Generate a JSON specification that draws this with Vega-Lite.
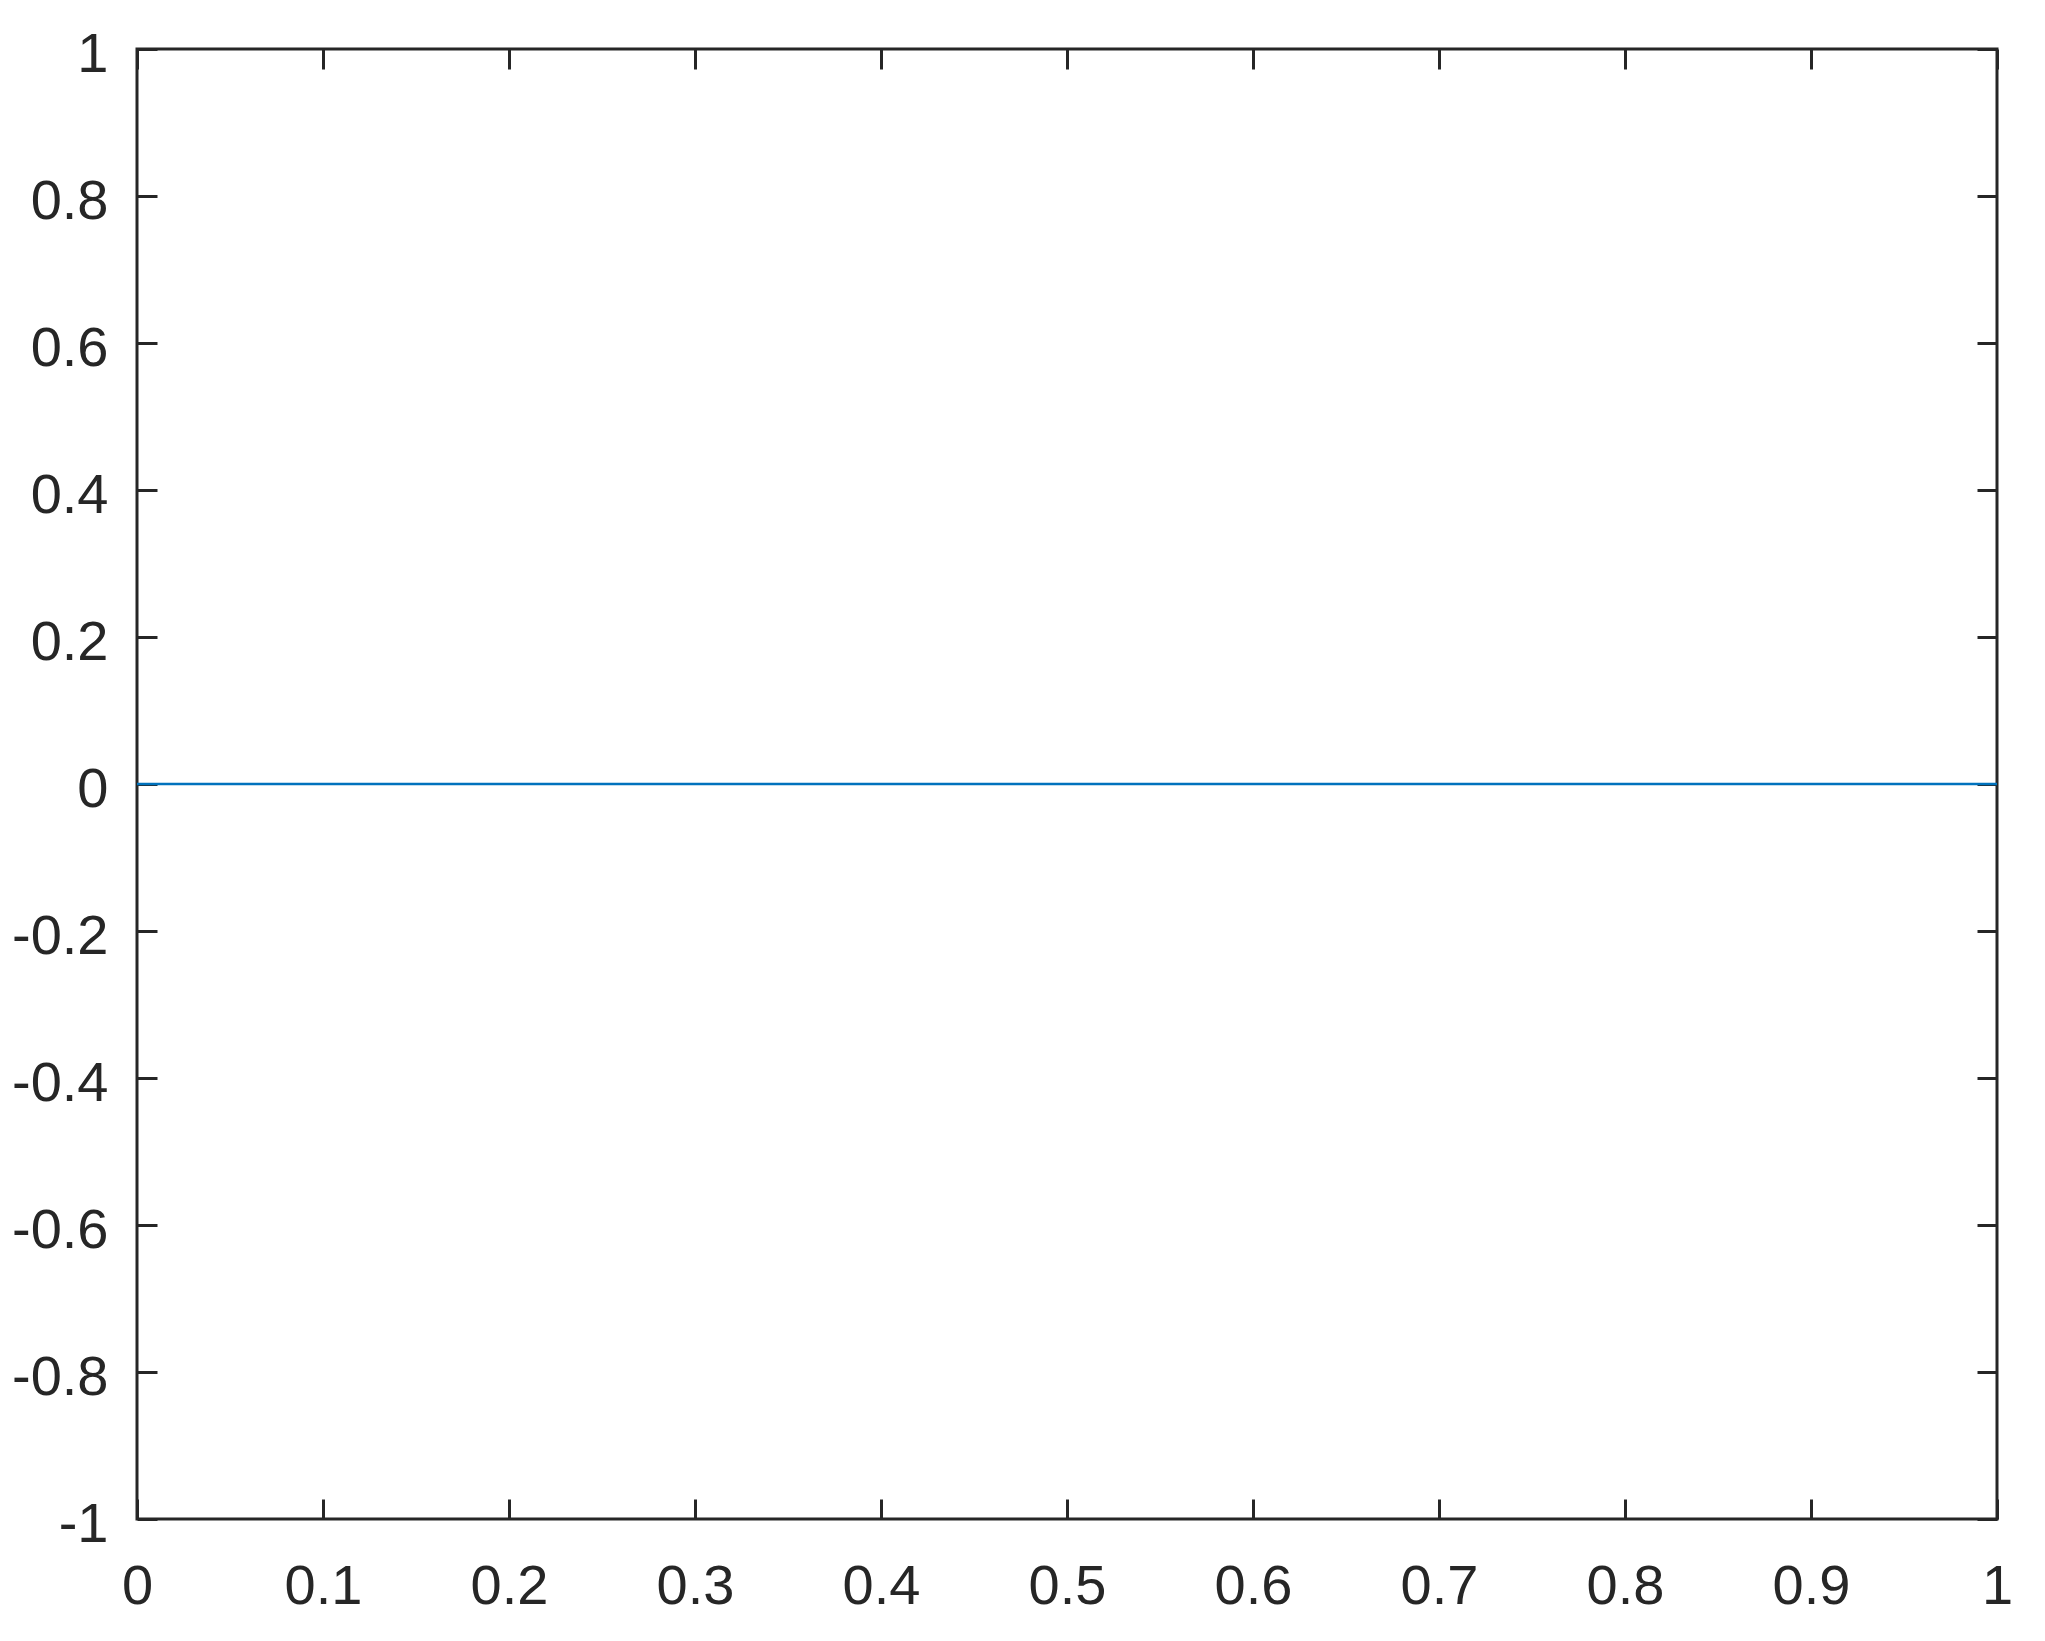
{
  "$schema": "https://vega.github.io/schema/vega-lite/v6.json",
  "width": 1860,
  "height": 1470,
  "autosize": {"type": "none"},
  "padding": {"left": 137, "top": 49, "right": 48, "bottom": 122},
  "background": "white",
  "config": {
    "view": {"stroke": "#262626", "strokeWidth": 3},
    "axis": {
      "domain": false,
      "grid": false,
      "tickColor": "#262626",
      "tickWidth": 3,
      "tickSize": -20,
      "labelFont": "Liberation Sans",
      "labelFontSize": 56,
      "labelColor": "#262626",
      "labelExpr": "'' + datum.value",
      "title": null
    }
  },
  "data": {"values": [{"x": 0, "y": 0}, {"x": 1, "y": 0}]},
  "layer": [
    {
      "mark": {"type": "line", "color": "#0072BD", "strokeWidth": 2.5, "clip": true},
      "encoding": {
        "x": {"field": "x", "type": "quantitative", "scale": {"domain": [0, 1], "nice": false},
          "axis": {"orient": "bottom", "values": [0,0.1,0.2,0.3,0.4,0.5,0.6,0.7,0.8,0.9,1], "labelPadding": 60, "labelFlush": false, "labelOverlap": false}},
        "y": {"field": "y", "type": "quantitative", "scale": {"domain": [-1, 1], "nice": false, "zero": false},
          "axis": {"orient": "left", "values": [-1,-0.8,-0.6,-0.4,-0.2,0,0.2,0.4,0.6,0.8,1], "labelPadding": 49, "labelFlush": false, "labelOverlap": false, "labelOffset": 5}}
      }
    },
    {
      "mark": {"type": "line", "opacity": 0},
      "encoding": {
        "x": {"field": "x", "type": "quantitative", "scale": {"domain": [0, 1], "nice": false},
          "axis": {"orient": "top", "values": [0,0.1,0.2,0.3,0.4,0.5,0.6,0.7,0.8,0.9,1], "labels": false}},
        "y": {"field": "y", "type": "quantitative", "scale": {"domain": [-1, 1], "nice": false, "zero": false},
          "axis": {"orient": "right", "values": [-1,-0.8,-0.6,-0.4,-0.2,0,0.2,0.4,0.6,0.8,1], "labels": false}}
      }
    }
  ],
  "resolve": {"axis": {"x": "independent", "y": "independent"}}
}
